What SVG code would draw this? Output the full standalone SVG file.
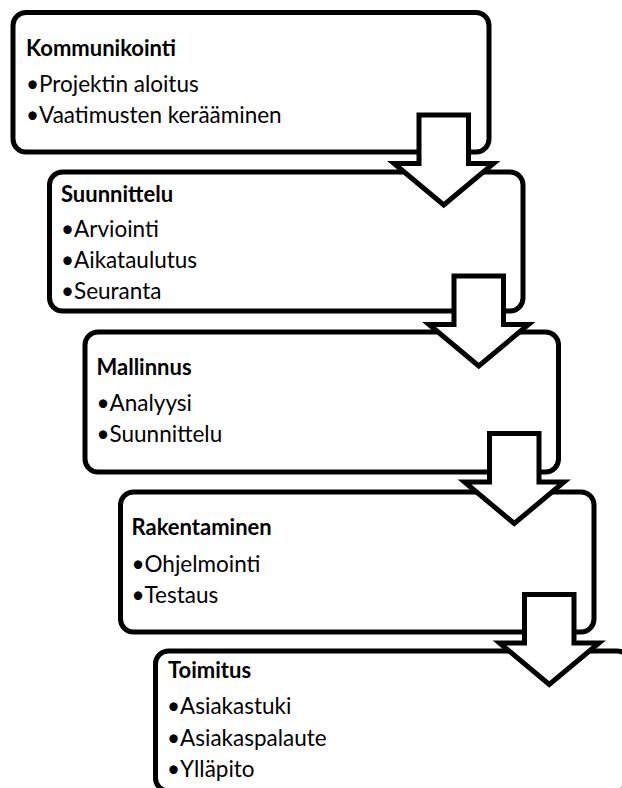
<svg xmlns="http://www.w3.org/2000/svg" width="622" height="788" viewBox="0 0 622 788">
<style>
.box{fill:#fff;stroke:#000;stroke-width:5}
.arr{fill:#fff;stroke:#000;stroke-width:5;stroke-linejoin:miter;stroke-miterlimit:10}
text{font-family:Lato,"Liberation Sans",sans-serif;font-size:22.5px;fill:#000}
.t{font-weight:bold;font-size:22px}
</style>
<defs>
<path id="arrow" class="arr" d="M0,0 H49.5 V48.5 H74.5 L24.75,90 L-25,48.5 H0 Z"/>
</defs>
<rect width="622" height="788" fill="#fff"/>
<g id="node1">
<rect class="box" x="13" y="12.5" width="476" height="139.5" rx="13"/>
<text class="t" x="26" y="56">Kommunikointi</text>
<text x="26" y="91.5">•Projektin aloitus</text>
<text x="26" y="123">•Vaatimusten kerääminen</text>
</g>
<g id="node2">
<rect class="box" x="49.5" y="172" width="473.5" height="139" rx="13"/>
<text class="t" x="61" y="201.5">Suunnittelu</text>
<text x="61" y="236.5">•Arviointi</text>
<text x="61" y="267.5">•Aikataulutus</text>
<text x="61" y="298.5">•Seuranta</text>
</g>
<g id="node3">
<rect class="box" x="85" y="332" width="473.5" height="140" rx="13"/>
<text class="t" x="96.5" y="375">Mallinnus</text>
<text x="96.5" y="410.5">•Analyysi</text>
<text x="96.5" y="441.5">•Suunnittelu</text>
</g>
<g id="node4">
<rect class="box" x="120.5" y="492" width="473.5" height="140" rx="13"/>
<text class="t" x="131.5" y="535">Rakentaminen</text>
<text x="131.5" y="571.5">•Ohjelmointi</text>
<text x="131.5" y="602.5">•Testaus</text>
</g>
<g id="node5">
<rect class="box" x="155.5" y="651" width="474.5" height="140" rx="13"/>
<text class="t" x="168" y="677.5">Toimitus</text>
<text x="167" y="714">•Asiakastuki</text>
<text x="167" y="746">•Asiakaspalaute</text>
<text x="167" y="776.5">•Ylläpito</text>
</g>
<g id="connectors">
<use href="#arrow" x="419" y="115"/>
<use href="#arrow" x="454" y="276"/>
<use href="#arrow" x="489.5" y="433.5"/>
<use href="#arrow" x="524.5" y="594.5"/>
</g>
</svg>
